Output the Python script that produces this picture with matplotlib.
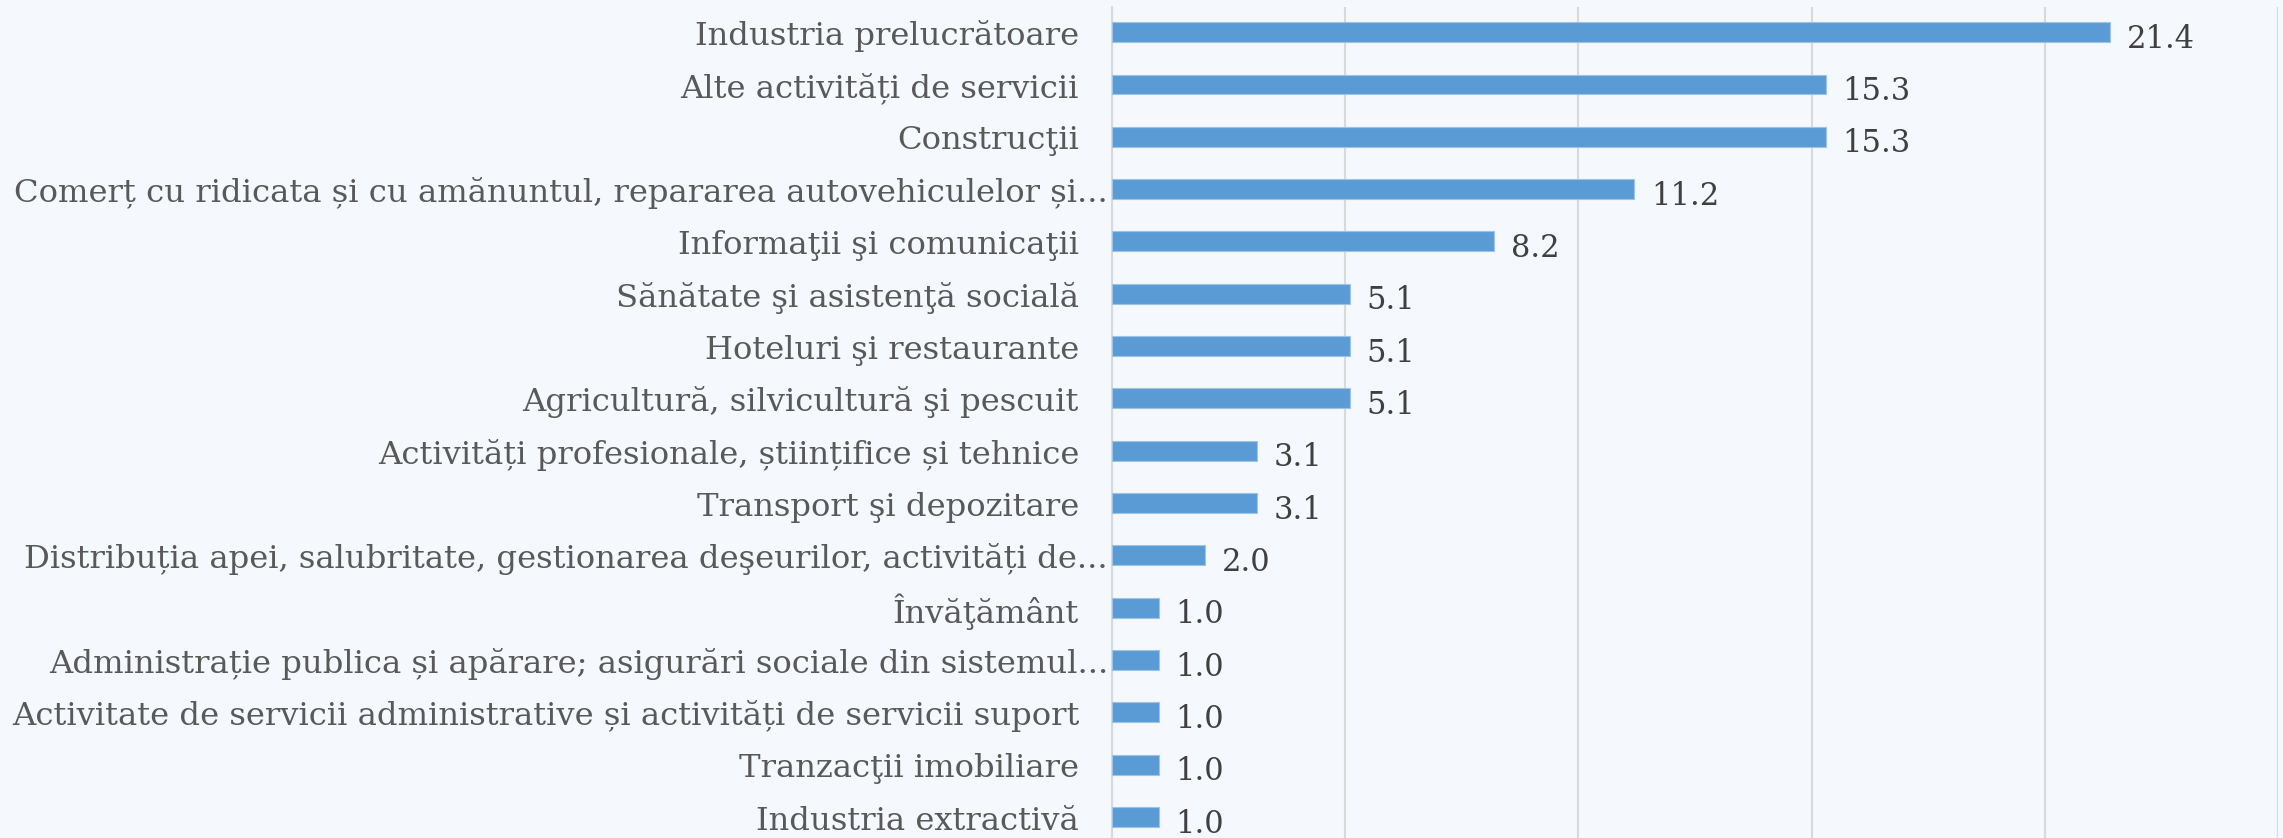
import matplotlib.pyplot as plt
import matplotlib.transforms as mtransforms
import numpy as np

# Sectors (top to bottom) and their shares, %
sectors = [
    'Industria prelucrătoare',
    'Alte activități de servicii',
    'Construcţii',
    'Comerț cu ridicata și cu amănuntul, repararea autovehiculelor și...',
    'Informaţii şi comunicaţii',
    'Sănătate şi asistenţă socială',
    'Hoteluri şi restaurante',
    'Agricultură, silvicultură şi pescuit',
    'Activități profesionale, științifice și tehnice',
    'Transport şi depozitare',
    'Distribuția apei, salubritate, gestionarea deşeurilor, activități de...',
    'Învăţământ',
    'Administrație publica și apărare; asigurări sociale din sistemul...',
    'Activitate de servicii administrative și activități de servicii suport',
    'Tranzacţii imobiliare',
    'Industria extractivă',
]
shares = [21.4, 15.3, 15.3, 11.2, 8.2, 5.1, 5.1, 5.1, 3.1, 3.1, 2.0, 1.0, 1.0, 1.0, 1.0, 1.0]

bg = '#F5F8FC'
bar_color = '#5B9BD5'

fig = plt.figure(figsize=(22.83, 8.38), dpi=100, facecolor=bg)
ax = fig.add_axes([1112 / 2283, 0.0, (2278 - 1112) / 2283, (838 - 7) / 838])
ax.set_facecolor(bg)

y = np.arange(len(sectors))
ax.barh(y, shares, height=0.38, color=bar_color, edgecolor='#9DC3E6', linewidth=0.8, zorder=3)

ax.set_xlim(0, 25)
ax.set_ylim(15.40, -0.48)
ax.set_xticks(np.arange(0, 26, 5))
ax.set_xticklabels([])
ax.set_yticks(y)
ax.set_yticklabels([])
ax.grid(axis='x', color='#D9D9D9', linewidth=1.5, zorder=0)
ax.tick_params(axis='both', length=0)
for s in ['top', 'right', 'bottom']:
    ax.spines[s].set_visible(False)
ax.spines['left'].set_color('#D9D9D9')
ax.spines['left'].set_linewidth(1.5)

# category labels; the truncated ones (ending in ...) sit closer to the axis,
# like in the original Excel chart
trans = mtransforms.blended_transform_factory(ax.transAxes, ax.transData)
renderer = fig.canvas.get_renderer()
max_w = 1095  # px available for the long, truncated labels
for yi, name in zip(y, sectors):
    cut = name.endswith('...')
    pad = -4 if cut else -33
    t = ax.annotate(name, (0, yi), xycoords=trans, xytext=(pad, -4), textcoords='offset pixels',
                    ha='right', va='center', fontsize=23.2, color='#595959', family='DejaVu Serif')
    if cut:
        w = t.get_window_extent(renderer).width
        if w > max_w:
            t.set_fontsize(23.2 * max_w / w)

for yi, v in zip(y, shares):
    ax.annotate(f'{v:.1f}', (v, yi), xytext=(12, -5), textcoords='offset points',
                va='center', ha='left', fontsize=22, color='#404040', family='DejaVu Serif')

fig.savefig('out.png', dpi=100, facecolor=bg)
